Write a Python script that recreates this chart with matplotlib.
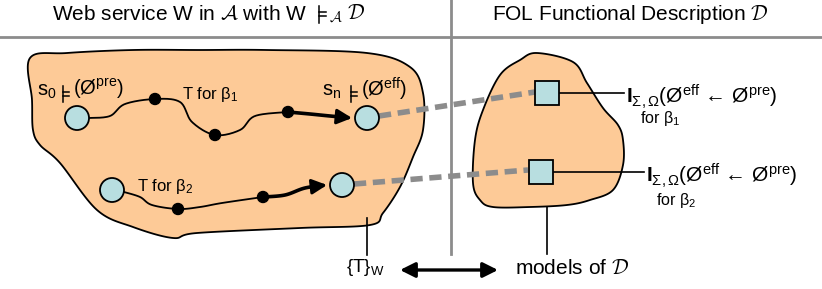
import numpy as np
import matplotlib
matplotlib.use("Agg")
import matplotlib.pyplot as plt
from matplotlib.patches import Polygon, Circle, Rectangle

plt.rcParams['font.family'] = ['Liberation Sans', 'DejaVu Sans']
plt.rcParams['mathtext.fontset'] = 'custom'
plt.rcParams['mathtext.rm'] = 'Liberation Sans'
plt.rcParams['mathtext.it'] = 'Liberation Sans:italic'
plt.rcParams['mathtext.bf'] = 'Liberation Sans:bold'
plt.rcParams['mathtext.default'] = 'regular'

# outlines (pixel coords, y down)
left_blob = [(30, 58), (67, 53), (133, 50), (200, 50), (267, 50), (367, 53), (410, 67),
             (423, 93), (423, 130), (413, 157), (400, 187), (383, 213), (370, 225),
             (300, 228), (197, 233), (173, 238), (133, 227), (97, 210), (60, 163),
             (40, 145), (33, 130), (32, 100)]
right_blob = [(537, 53), (520, 60), (500, 75), (483, 110), (475, 140), (473, 183),
              (480, 200), (493, 207), (530, 207), (567, 205), (590, 200), (613, 190),
              (623, 165), (623, 140), (618, 125), (603, 108), (587, 83), (573, 62)]

states = [(77, 118), (367, 118), (112, 190), (342, 185)]
path1 = [(89, 118), (110, 116), (125, 104), (155, 99), (180, 102), (192, 122), (215, 135),
         (240, 130), (255, 116), (288, 112)]
path1_end = [(288, 112), (310, 114), (330, 116), (352, 118)]
path2 = [(124, 192), (140, 197), (152, 205), (178, 209), (200, 207), (222, 203), (263, 197)]
path2_end = [(263, 197), (285, 195), (305, 188), (327, 185)]
dots = [(155, 99), (215, 135), (288, 112), (178, 209), (263, 197)]
squares = [(547, 93), (541, 172)]

peach = '#fdca97'
cyan = '#b8dee0'
gray = '#8c8c8c'


def smooth(pts, closed=False, n=20):
    p = np.array(pts, float)
    if closed:
        p = np.vstack([p[-1], p, p[0], p[1]])
    else:
        p = np.vstack([p[0], p, p[-1]])
    out = []
    t = np.linspace(0, 1, n, endpoint=False)[:, None]
    for i in range(1, len(p) - 2):
        p0, p1, p2, p3 = p[i - 1], p[i], p[i + 1], p[i + 2]
        seg = 0.5 * ((2 * p1) + (-p0 + p2) * t + (2 * p0 - 5 * p1 + 4 * p2 - p3) * t ** 2
                     + (-p0 + 3 * p1 - 3 * p2 + p3) * t ** 3)
        out.append(seg)
    out.append(p[-2][None, :])
    return np.vstack(out)


def models_sign(x, y, h=16, w=6):
    # the "|=" sign drawn as strokes
    ax.plot([x, x], [y - h / 2, y + h / 2], color='black', lw=1.1, zorder=5)
    ax.plot([x, x + w], [y - 2.2, y - 2.2], color='black', lw=1.1, zorder=5)
    ax.plot([x, x + w], [y + 2.2, y + 2.2], color='black', lw=1.1, zorder=5)


fig = plt.figure(figsize=(8.22, 2.89), dpi=100)
ax = fig.add_axes([0, 0, 1, 1])
ax.set_xlim(0, 822)
ax.set_ylim(289, 0)
ax.axis('off')

# frame lines
ax.plot([0, 822], [37, 37], color=gray, lw=2)
ax.plot([451, 451], [0, 254], color=gray, lw=2)

# headers
ax.text(52, 14, r'Web service W in $\mathcal{A}$ with W',
        ha='left', va='center', fontsize=15, math_fontfamily='cm')
models_sign(319, 14, h=17, w=7)
ax.text(329, 14, r'$_{\mathcal{A}}\ \mathcal{D}$',
        ha='left', va='center', fontsize=15, math_fontfamily='cm')
ax.text(630, 14, r'FOL Functional Description $\mathcal{D}$',
        ha='center', va='center', fontsize=15, math_fontfamily='cm')

# blobs
ax.add_patch(Polygon(smooth(left_blob, True), closed=True, fc=peach, ec='black', lw=1.3, zorder=1))
ax.add_patch(Polygon(smooth(right_blob, True), closed=True, fc=peach, ec='black', lw=1.3, zorder=1))

# dashed links
ax.plot([379, 535], [116, 92], color=gray, lw=4, ls=(0, (2.2, 1.2)), zorder=2)
ax.plot([354, 528], [184, 170], color=gray, lw=4, ls=(0, (2.2, 1.2)), zorder=2)

# traces
for pts in (path1, path2):
    c = smooth(pts)
    ax.plot(c[:, 0], c[:, 1], color='black', lw=1.3, zorder=3)
for pts in (path1_end, path2_end):
    c = smooth(pts)
    ax.plot(c[:-6, 0], c[:-6, 1], color='black', lw=2.6, zorder=3)
    ax.annotate('', xy=tuple(c[-1]), xytext=tuple(c[-8]), zorder=3,
                arrowprops=dict(arrowstyle='-|>,head_length=0.9,head_width=0.45',
                                color='black', lw=2.2, shrinkA=0, shrinkB=0))
for x, y in dots:
    ax.add_patch(Circle((x, y), 5.5, fc='black', ec='black', zorder=4))
for x, y in states:
    ax.add_patch(Circle((x, y), 12, fc=cyan, ec='black', lw=1.3, zorder=4))

# squares and labels
for (x, y) in squares:
    ax.add_patch(Rectangle((x - 12, y - 12), 24, 24, fc=cyan, ec='black', lw=1.3, zorder=4))
ax.plot([559, 624], [93, 93], color='black', lw=1.2, zorder=3)
ax.plot([553, 644], [172, 172], color='black', lw=1.2, zorder=3)
ax.text(626, 97, r'$\mathbf{I}_{\Sigma,\Omega}$(Ø$^{eff}$ ← Ø$^{pre}$)',
        ha='left', va='center', fontsize=15)
ax.text(640, 119, r'for β$_1$', ha='left', va='center', fontsize=11.5)
ax.text(646, 176, r'$\mathbf{I}_{\Sigma,\Omega}$(Ø$^{eff}$ ← Ø$^{pre}$)',
        ha='left', va='center', fontsize=15)
ax.text(656, 201, r'for β$_2$', ha='left', va='center', fontsize=11.5)

# state labels
ax.text(37, 92, r's$_0$', ha='left', va='center', fontsize=14.5)
models_sign(63, 94)
ax.text(73, 89, r'(Ø$^{pre}$)', ha='left', va='center', fontsize=14.5)
ax.text(322, 92, r's$_n$', ha='left', va='center', fontsize=14.5)
models_sign(351, 94)
ax.text(361, 89, r'(Ø$^{eff}$)', ha='left', va='center', fontsize=14.5)
ax.text(182, 94, r'T for β$_1$', ha='left', va='center', fontsize=12)
ax.text(137, 186, r'T for β$_2$', ha='left', va='center', fontsize=12)

# bottom
ax.plot([367, 367], [218, 255], color='black', lw=1.2)
ax.plot([547, 547], [207, 254], color='black', lw=1.2)
ax.text(346, 268, r'{T}$_W$', ha='left', va='center', fontsize=13.5)
ax.annotate('', xy=(400, 270), xytext=(498, 270),
            arrowprops=dict(arrowstyle='<|-|>,head_length=0.9,head_width=0.45',
                            color='black', lw=2.4, shrinkA=0, shrinkB=0))
ax.text(515, 268, r'models of $\mathcal{D}$', ha='left', va='center', fontsize=15,
        math_fontfamily='cm')

fig.savefig('out.png', dpi=100)
